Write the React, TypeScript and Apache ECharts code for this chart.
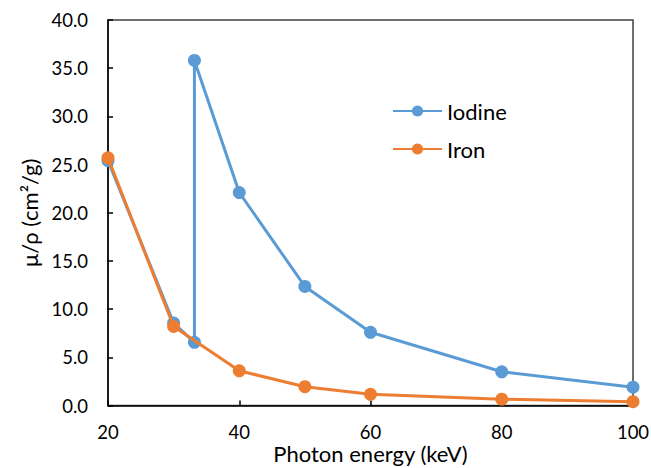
import React, { useEffect, useRef } from "react";
import * as echarts from "echarts";

// Mass attenuation coefficient vs photon energy (keV)
const iodineEnergy = [20, 30, 33.17, 33.17, 40, 50, 60, 80, 100];
const iodineMu = [25.4, 8.55, 6.55, 35.8, 22.1, 12.35, 7.6, 3.5, 1.9];
const ironEnergy = [20, 30, 40, 50, 60, 80, 100];
const ironMu = [25.7, 8.2, 3.6, 1.95, 1.16, 0.65, 0.4];

const FONT = "Lato, 'Open Sans', sans-serif";
const BLUE = "#5B9BD5";
const ORANGE = "#ED7D31";

export default function App() {
  const ref = useRef<HTMLDivElement>(null);
  useEffect(() => {
    if (!ref.current) return;
    const chart = echarts.init(ref.current, undefined, { renderer: "svg" });
    const pairs = (xs: number[], ys: number[]) => xs.map((x, i) => [x, ys[i]]);
    chart.setOption({
      animation: false,
      textStyle: { fontFamily: FONT },
      grid: {
        left: 108,
        top: 20,
        right: 18,
        bottom: 62.5,
        outerBoundsMode: "none",
        containLabel: false,
        show: true,
        borderColor: "#404040",
        borderWidth: 1.5,
      },
      legend: {
        orient: "vertical",
        left: 392,
        top: 100,
        padding: 0,
        itemWidth: 49,
        itemHeight: 14,
        itemGap: 16,
        textStyle: { fontFamily: FONT, fontSize: 22, color: "#000", lineHeight: 22, padding: [0, 0, 0, 0] },
        data: ["Iodine", "Iron"],
      },
      xAxis: {
        type: "value",
        min: 20,
        max: 100,
        interval: 20,
        axisLine: { show: true, lineStyle: { color: "#000", width: 1.5 } },
        axisTick: { show: true, inside: true, length: 5, lineStyle: { color: "#000", width: 1.5 } },
        axisLabel: { fontFamily: FONT, fontSize: 18.5, color: "#000", margin: 16, lineHeight: 20 },
        splitLine: { show: false },
        name: "Photon energy (keV)",
        nameLocation: "middle",
        nameGap: 37,
        nameMoveOverlap: false,
        nameTextStyle: { fontFamily: FONT, fontSize: 22, color: "#000", lineHeight: 22 },
      },
      yAxis: {
        type: "value",
        min: 0,
        max: 40,
        interval: 5,
        axisLine: { show: true, lineStyle: { color: "#000", width: 1.5 } },
        axisTick: { show: true, inside: true, length: 5, lineStyle: { color: "#000", width: 1.5 } },
        axisLabel: {
          fontFamily: FONT,
          fontSize: 18.5,
          color: "#000",
          margin: 20,
          formatter: (v: number) => v.toFixed(1),
        },
        splitLine: { show: false },
        name: "μ/ρ (cm²/g)",
        nameLocation: "middle",
        nameGap: 68,
        nameMoveOverlap: false,
        nameTextStyle: { fontFamily: FONT, fontSize: 22, color: "#000" },
      },
      series: [
        {
          name: "Iodine",
          type: "line",
          data: pairs(iodineEnergy, iodineMu),
          symbol: "circle",
          symbolSize: 13,
          lineStyle: { color: BLUE, width: 3 },
          itemStyle: { color: BLUE },
          z: 2,
        },
        {
          name: "Iron",
          type: "line",
          data: pairs(ironEnergy, ironMu),
          symbol: "circle",
          symbolSize: 13,
          lineStyle: { color: ORANGE, width: 3 },
          itemStyle: { color: ORANGE },
          z: 3,
        },
      ],
    });
    return () => chart.dispose();
  }, []);
  return <div ref={ref} style={{ width: 651, height: 468, position: "absolute", left: 0, top: 0 }} />;
}
